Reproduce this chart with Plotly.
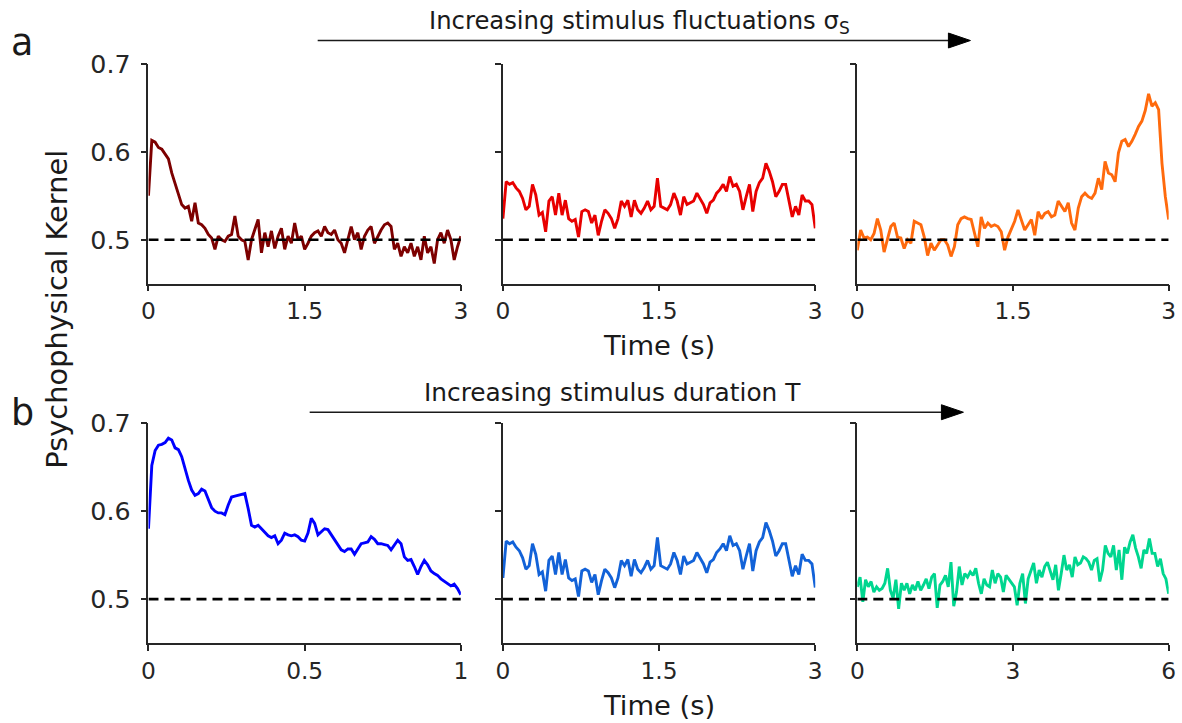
import numpy as np
import plotly.graph_objects as go

# ---------------- data ----------------
# Row a: increasing stimulus fluctuations, T = 3 s
kernel_a_low = [0.550, 0.613, 0.611, 0.605, 0.603, 0.597, 0.592, 0.576, 0.563, 0.550,
                0.540, 0.536, 0.538, 0.521, 0.542, 0.519, 0.517, 0.513, 0.506, 0.502,
                0.489, 0.504, 0.500, 0.498, 0.504, 0.506, 0.527, 0.504, 0.500, 0.498,
                0.477, 0.500, 0.511, 0.523, 0.485, 0.508, 0.492, 0.510, 0.490, 0.504,
                0.513, 0.489, 0.504, 0.496, 0.519, 0.500, 0.504, 0.489, 0.496, 0.504,
                0.508, 0.510, 0.504, 0.515, 0.508, 0.506, 0.511, 0.500, 0.496, 0.485,
                0.500, 0.515, 0.500, 0.508, 0.489, 0.504, 0.511, 0.515, 0.496, 0.504,
                0.511, 0.517, 0.519, 0.515, 0.489, 0.496, 0.481, 0.492, 0.485, 0.496,
                0.481, 0.492, 0.477, 0.504, 0.485, 0.492, 0.473, 0.500, 0.508, 0.496,
                0.511, 0.500, 0.477, 0.492, 0.504]

kernel_a_mid = [0.524, 0.566, 0.563, 0.565, 0.559, 0.555, 0.547, 0.534, 0.538, 0.563,
                0.551, 0.528, 0.531, 0.509, 0.544, 0.549, 0.528, 0.553, 0.528, 0.545,
                0.524, 0.521, 0.523, 0.503, 0.532, 0.534, 0.532, 0.519, 0.528, 0.505,
                0.521, 0.534, 0.530, 0.524, 0.513, 0.524, 0.544, 0.538, 0.545, 0.526,
                0.545, 0.534, 0.530, 0.536, 0.544, 0.534, 0.538, 0.570, 0.538, 0.536,
                0.534, 0.540, 0.553, 0.544, 0.528, 0.549, 0.540, 0.542, 0.544, 0.553,
                0.547, 0.540, 0.530, 0.542, 0.545, 0.553, 0.557, 0.563, 0.555, 0.572,
                0.561, 0.563, 0.555, 0.534, 0.549, 0.563, 0.532, 0.555, 0.565, 0.570,
                0.587, 0.578, 0.566, 0.549, 0.555, 0.563, 0.563, 0.544, 0.526, 0.538,
                0.528, 0.551, 0.544, 0.544, 0.540, 0.513]

kernel_a_high = [0.488, 0.511, 0.502, 0.503, 0.500, 0.507, 0.524, 0.511, 0.486, 0.500,
                 0.515, 0.519, 0.503, 0.502, 0.490, 0.500, 0.496, 0.521, 0.519, 0.517,
                 0.503, 0.482, 0.496, 0.488, 0.494, 0.500, 0.500, 0.494, 0.481, 0.492,
                 0.517, 0.524, 0.526, 0.524, 0.523, 0.507, 0.492, 0.526, 0.513, 0.519,
                 0.515, 0.517, 0.515, 0.509, 0.488, 0.503, 0.513, 0.521, 0.534, 0.523,
                 0.511, 0.517, 0.523, 0.505, 0.532, 0.524, 0.530, 0.532, 0.526, 0.528,
                 0.544, 0.538, 0.532, 0.542, 0.519, 0.511, 0.536, 0.549, 0.553, 0.549,
                 0.547, 0.553, 0.570, 0.557, 0.589, 0.576, 0.574, 0.566, 0.599, 0.612,
                 0.614, 0.606, 0.612, 0.620, 0.629, 0.635, 0.647, 0.666, 0.652, 0.656,
                 0.648, 0.587, 0.549, 0.523]

# Row b: increasing stimulus duration T
kernel_b_short = [0.580, 0.652, 0.669, 0.675, 0.676, 0.678, 0.683, 0.681, 0.672, 0.670,
                  0.662, 0.648, 0.635, 0.624, 0.618, 0.620, 0.625, 0.623, 0.613, 0.604,
                  0.600, 0.598, 0.598, 0.596, 0.607, 0.616, 0.617, 0.618, 0.619, 0.620,
                  0.603, 0.584, 0.582, 0.584, 0.580, 0.576, 0.572, 0.570, 0.572, 0.563,
                  0.567, 0.575, 0.573, 0.572, 0.573, 0.571, 0.567, 0.566, 0.575, 0.592,
                  0.586, 0.573, 0.577, 0.580, 0.579, 0.573, 0.567, 0.561, 0.556, 0.554,
                  0.557, 0.557, 0.551, 0.557, 0.563, 0.564, 0.565, 0.571, 0.568, 0.563,
                  0.563, 0.562, 0.561, 0.556, 0.561, 0.567, 0.563, 0.548, 0.544, 0.545,
                  0.537, 0.528, 0.537, 0.544, 0.539, 0.532, 0.529, 0.527, 0.523, 0.520,
                  0.517, 0.515, 0.517, 0.512, 0.505]

kernel_b_mid = list(kernel_a_mid)   # same kernel as the middle panel of row a

kernel_b_long = [0.514, 0.525, 0.497, 0.522, 0.514, 0.520, 0.508, 0.514, 0.510, 0.512,
                 0.518, 0.535, 0.510, 0.501, 0.522, 0.489, 0.518, 0.510, 0.518, 0.506,
                 0.516, 0.510, 0.520, 0.510, 0.516, 0.523, 0.512, 0.525, 0.529, 0.490,
                 0.516, 0.520, 0.527, 0.514, 0.542, 0.492, 0.508, 0.537, 0.516, 0.529,
                 0.525, 0.531, 0.527, 0.535, 0.518, 0.506, 0.523, 0.516, 0.514, 0.533,
                 0.518, 0.529, 0.525, 0.508, 0.527, 0.523, 0.518, 0.514, 0.493, 0.518,
                 0.529, 0.495, 0.523, 0.533, 0.541, 0.518, 0.533, 0.525, 0.537, 0.542,
                 0.531, 0.522, 0.539, 0.510, 0.529, 0.550, 0.533, 0.539, 0.525, 0.548,
                 0.539, 0.541, 0.548, 0.546, 0.542, 0.533, 0.544, 0.546, 0.520, 0.533,
                 0.561, 0.552, 0.548, 0.561, 0.533, 0.556, 0.522, 0.559, 0.552, 0.565,
                 0.573, 0.558, 0.548, 0.535, 0.556, 0.552, 0.569, 0.552, 0.552, 0.537,
                 0.546, 0.529, 0.523, 0.506]

kernels = [kernel_a_low, kernel_a_mid, kernel_a_high,
           kernel_b_short, kernel_b_mid, kernel_b_long]
durations = [3, 3, 3, 1, 3, 6]          # stimulus duration (s) per panel
chance_level = 0.5

x_tickvals = [[0, 1.5, 3], [0, 1.5, 3], [0, 1.5, 3], [0, 0.5, 1], [0, 1.5, 3], [0, 3, 6]]
x_ticktext = [["0", "1.5", "3"], ["0", "1.5", "3"], ["0", "1.5", "3"],
              ["0", "0.5", "1"], ["0", "1.5", "3"], ["0", "3", "6"]]
y_tickvals = [0.5, 0.6, 0.7]
y_ticktext = ["0.5", "0.6", "0.7"]
y_range = [0.45, 0.7]

colors = ["#7d0000", "#e80000", "#ff6a0d", "#0000ff", "#1262d8", "#00d68f"]

# ---------------- layout helpers ----------------
W, H = 1182, 723
FONT = "DejaVu Sans"
AX = "#262626"
SX = 0.987   # compensation for the rendering's slight shrink
SY = 0.980


def PX(x):   # target pixel x -> paper fraction
    return (W / 2 + (x - W / 2) / SX) / W


def PY(y):   # target pixel y (from top) -> paper fraction
    return 1 - (H - (H - y) / SY) / H


def fs(v):
    return v / SX


col_dom = [(PX(149), PX(461)), (PX(503), PX(815)), (PX(857), PX(1168))]
row_dom = [(PY(283.3), PY(63.5)), (PY(643), PY(423))]

fig = go.Figure()
layout = {}
for i, (vals, dur, col) in enumerate(zip(kernels, durations, colors)):
    r, c = divmod(i, 3)
    n = i + 1
    xa = "x" if n == 1 else f"x{n}"
    ya = "y" if n == 1 else f"y{n}"
    t = np.linspace(0, dur, len(vals))
    fig.add_trace(go.Scatter(x=t, y=vals, mode="lines", xaxis=xa, yaxis=ya,
                             line=dict(color=col, width=2.9), showlegend=False,
                             hoverinfo="skip"))
    fig.add_trace(go.Scatter(x=[0, dur], y=[chance_level, chance_level], mode="lines",
                             xaxis=xa, yaxis=ya,
                             line=dict(color="black", width=2.6, dash="10px,6px"),
                             showlegend=False, hoverinfo="skip"))
    common = dict(showline=True, linecolor=AX, linewidth=1.6, ticks="outside",
                  ticklen=6, tickwidth=1.6, tickcolor=AX, showgrid=False,
                  zeroline=False, mirror=False)
    layout["xaxis" if n == 1 else f"xaxis{n}"] = dict(
        domain=col_dom[c], anchor=ya, range=[0, dur], tickmode="array",
        tickvals=x_tickvals[i], ticktext=x_ticktext[i],
        tickfont=dict(family=FONT, size=fs(23), color="#262626"), **common)
    layout["yaxis" if n == 1 else f"yaxis{n}"] = dict(
        domain=row_dom[r], anchor=xa, range=y_range, tickmode="array",
        tickvals=y_tickvals, ticktext=y_ticktext, showticklabels=(c == 0),
        ticklabelstandoff=5,
        tickfont=dict(family=FONT, size=fs(25), color="#262626"), **common)

texts = [
    dict(text="a", x=23, y=42, size=36),
    dict(text="b", x=23, y=412, size=36),
    dict(text="Increasing stimulus fluctuations σ<sub>S</sub>", x=639, y=21, size=24),
    dict(text="Increasing stimulus duration T", x=612, y=392, size=24.5),
    dict(text="Psychophysical Kernel", x=58, y=309, size=28.5, angle=-90),
    dict(text="Time (s)", x=659, y=345, size=27),
    dict(text="Time (s)", x=659, y=705, size=27),
]
ann = []
for a in texts:
    ann.append(dict(xref="paper", yref="paper", showarrow=False, xanchor="center",
                    yanchor="middle", x=PX(a["x"]), y=PY(a["y"]), text=a["text"],
                    textangle=a.get("angle", 0),
                    font=dict(family=FONT, color="#1a1a1a", size=fs(a["size"]))))

# arrows: line + filled triangular head
shapes = []
for (x0, x1, yy) in [(318, 970, 40), (310, 963, 412)]:
    head = 22
    half = 7.5
    shapes.append(dict(type="line", xref="paper", yref="paper",
                       x0=PX(x0), x1=PX(x1 - head + 2), y0=PY(yy), y1=PY(yy),
                       line=dict(color="#1a1a1a", width=1.7)))
    path = (f"M {PX(x1)} {PY(yy)} L {PX(x1 - head)} {PY(yy - half)} "
            f"L {PX(x1 - head)} {PY(yy + half)} Z")
    shapes.append(dict(type="path", xref="paper", yref="paper", path=path,
                       fillcolor="#000000", line=dict(color="#000000", width=1)))

fig.update_layout(width=W, height=H, margin=dict(l=0, r=0, t=0, b=0),
                  paper_bgcolor="white", plot_bgcolor="white",
                  annotations=ann, shapes=shapes, **layout)

fig.write_html("out.html")
